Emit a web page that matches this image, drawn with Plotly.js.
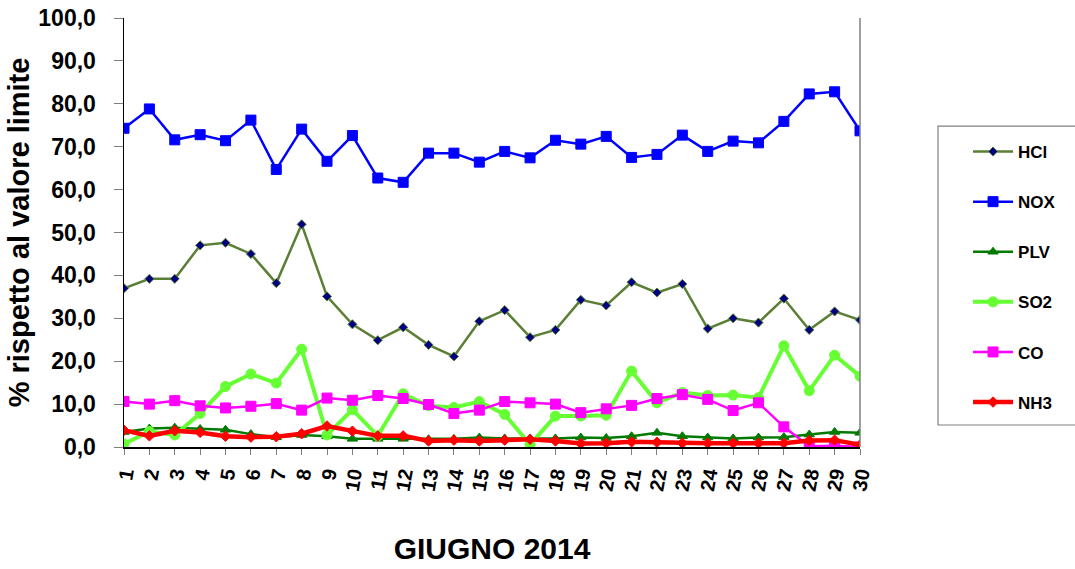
<!DOCTYPE html>
<html>
<head>
<meta charset="utf-8">
<script src="https://cdn.plot.ly/plotly-3.0.1.min.js"></script>
<style>
html,body{margin:0;padding:0;background:#fff;}
#chart{width:1075px;height:569px;}
</style>
</head>
<body>
<div id="chart"></div>
<script>
var days = [1,2,3,4,5,6,7,8,9,10,11,12,13,14,15,16,17,18,19,20,21,22,23,24,25,26,27,28,29,30];
var dayLabels = days.map(String);

var HCl = [37.0,39.2,39.2,47.0,47.6,45.0,38.2,51.9,35.1,28.6,24.9,27.9,23.8,21.1,29.3,31.9,25.6,27.3,34.3,33.0,38.4,36.0,38.0,27.6,30.0,29.0,34.6,27.3,31.6,29.6];
var NOX = [74.3,78.8,71.6,72.8,71.4,76.2,64.7,74.1,66.6,72.6,62.7,61.7,68.5,68.5,66.4,68.9,67.4,71.5,70.6,72.4,67.5,68.2,72.7,68.9,71.3,70.9,75.9,82.3,82.8,73.7];
var PLV = [3.5,4.3,4.5,4.2,4.0,3.0,2.3,2.8,2.5,1.9,1.9,1.9,1.8,1.9,2.2,2.0,2.0,2.0,2.2,2.1,2.5,3.3,2.5,2.2,2.0,2.2,2.3,2.9,3.5,3.3];
var SO2 = [0.7,3.6,2.8,7.8,14.1,17.0,14.9,22.8,2.8,8.7,2.6,12.4,9.6,9.2,10.6,7.6,0.6,7.2,7.2,7.4,17.7,10.3,12.7,12.0,12.1,11.5,23.6,13.1,21.4,16.5];
var CO  = [10.6,10.0,10.8,9.6,9.1,9.5,10.1,8.6,11.4,10.9,12.0,11.3,9.9,7.8,8.6,10.6,10.3,10.0,8.0,8.9,9.7,11.3,12.2,11.1,8.5,10.3,4.7,0.2,0.3,0.0];
var NH3 = [3.9,2.6,3.8,3.4,2.5,2.3,2.4,3.1,4.9,3.7,2.6,2.6,1.4,1.6,1.4,1.6,1.8,1.4,0.8,0.9,1.2,1.1,0.9,0.9,0.9,0.9,0.9,1.5,1.6,0.5];

var yTicks = [0,10,20,30,40,50,60,70,80,90,100];

var FONT = "Liberation Sans, Arial, sans-serif";

function tr(name, y, color, width, symbol, msize, mcolor, mline, group){
  return {
    x: days, y: y, name: name, type: 'scatter', mode: 'lines+markers',
    legendgroup: group,
    line: {color: color, width: width},
    marker: {symbol: symbol, size: msize, color: mcolor, line: {color: mline, width: 1}}
  };
}

var data = [
  tr('HCl', HCl, '#5A7F35', 2.5, 'diamond', 7, '#000080', '#5A7F35', 'a'),
  tr('NOX', NOX, '#0000FF', 2.5, 'square', 10, '#0000FF', '#0000FF', 'b'),
  tr('PLV', PLV, '#007A00', 2.5, 'triangle-up', 9, '#007A00', '#007A00', 'c'),
  tr('SO2', SO2, '#66FF33', 4, 'circle', 10, '#66FF33', '#66FF33', 'd'),
  tr('CO',  CO,  '#FF00FF', 2.5, 'square', 10, '#FF00FF', '#FF00FF', 'e'),
  tr('NH3', NH3, '#FF0000', 4.5, 'diamond', 8, '#FF0000', '#FF0000', 'f')
];

var layout = {
  width: 1075, height: 569,
  paper_bgcolor: '#ffffff', plot_bgcolor: '#ffffff',
  separators: ',.',
  font: {family: FONT, color: '#000000'},
  margin: {l: 124, r: 215, t: 18, b: 122},
  showlegend: true,
  legend: {
    x: 1.1468, xanchor: 'left', y: 0.7296, yanchor: 'top',
    bgcolor: 'rgba(0,0,0,0)', borderwidth: 0,
    font: {family: FONT, size: 17, color: '#000000', weight: 'bold'},
    tracegroupgap: 25, traceorder: 'grouped',
    itemwidth: 40
  },
  xaxis: {
    range: [1, 30], tickmode: 'array', tickvals: days, ticktext: dayLabels,
    tickangle: -80,
    tickfont: {family: FONT, size: 20, color: '#000000', weight: 'bold'},
    ticks: 'outside', ticklen: 6, tickcolor: '#808080',
    showline: true, linecolor: '#000000', linewidth: 1.5,
    showgrid: false, zeroline: false,
    title: {text: 'GIUGNO 2014', font: {family: FONT, size: 30, color: '#000000', weight: 'bold'}, standoff: 46}
  },
  yaxis: {
    range: [0, 100], tickmode: 'array', tickvals: yTicks,
    tickformat: '.1f',
    tickfont: {family: FONT, size: 23, color: '#000000', weight: 'bold'},
    ticks: 'outside', ticklen: 9, tickcolor: '#808080',
    ticklabelstandoff: 13,
    showline: true, linecolor: '#000000', linewidth: 1.5,
    showgrid: false, zeroline: false,
    title: {text: '% rispetto al valore limite', font: {family: FONT, size: 29, color: '#000000', weight: 'bold'}, standoff: 0}
  },
  shapes: [
    {type: 'line', xref: 'paper', yref: 'paper', x0: 1, x1: 1, y0: 0, y1: 1,
     line: {color: '#808080', width: 1.5}},
    {type: 'rect', xref: 'paper', yref: 'paper', x0: 1.106, x1: 1.30, y0: 0.0513, y1: 0.748,
     line: {color: '#808080', width: 1.2}, fillcolor: 'rgba(0,0,0,0)', layer: 'below'}
  ]
};

Plotly.newPlot('chart', data, layout, {displayModeBar: false, staticPlot: true});
</script>
</body>
</html>
